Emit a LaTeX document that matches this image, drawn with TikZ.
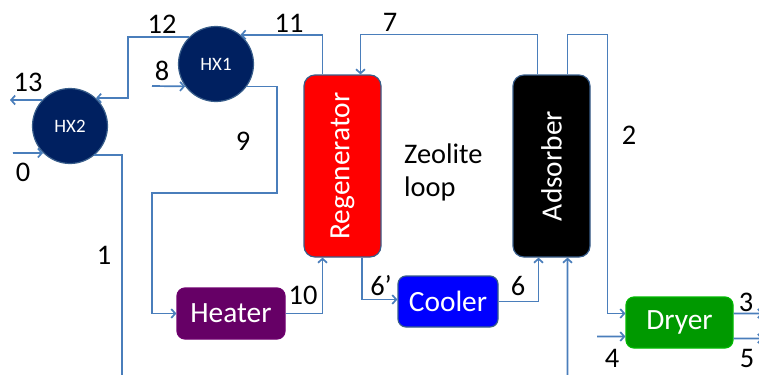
\documentclass[tikz,border=0pt]{standalone}
\usepackage{fontspec}
\setmainfont{Carlito}
\usetikzlibrary{positioning,arrows.meta}
\definecolor{flow}{RGB}{74,126,187}
\definecolor{edge}{RGB}{56,93,138}
\definecolor{navy}{RGB}{0,32,96}
\definecolor{plum}{RGB}{102,0,102}
\definecolor{leaf}{RGB}{0,153,0}

\begin{document}
\begin{tikzpicture}[x=1bp,y=-1bp,
  duct/.style={flow,line width=1.7bp},
  stream/.style={duct,-{Straight Barb[length=4bp,width=9bp]}},
  hx/.style={circle,fill=navy,draw=edge,line width=1.2bp,minimum size=75bp,inner sep=0pt,text=white,font=\fontsize{19}{20}\selectfont},
  unit/.style={rectangle,rounded corners=8bp,draw=edge,line width=1.2bp,text=white,font=\fontsize{29.5}{30}\selectfont,inner sep=0pt,minimum height=51bp},
  column/.style={unit,minimum width=77bp,minimum height=182bp,rounded corners=11bp},
  lbl/.style={font=\fontsize{28.5}{30}\selectfont,inner sep=0pt}]
  \useasboundingbox (0,0) rectangle (759,374);
  % heat exchangers
  \node[hx] (hx2) at (70,126) {HX2};
  \node[hx] (hx1) at (216,64) {HX1};
  % columns and units
  \node[column,fill=red] (regen) at (342.5,166) {\rotatebox{90}{Regenerator}};
  \node[column,fill=black] (ads) at (551.5,166) {\rotatebox{90}{Adsorber}};
  \node[unit,fill=plum,draw=plum!70!violet,minimum width=108bp] (heater) at (231,313.5) {Heater};
  \node[unit,fill=blue,minimum width=100bp] (cooler) at (448,301.5) {Cooler};
  \node[unit,fill=leaf,draw=leaf!70!green,minimum width=107bp] (dryer) at (679.5,322.5) {Dryer};
  % free ends and bends
  \coordinate (in0) at (13,153);
  \coordinate (out13) at (10,100);
  \coordinate (in8) at (152,86);
  \coordinate (out1) at (122,376);
  \coordinate (feed) at (567.5,376);
  \coordinate (in4) at (597,336.5);
  \coordinate (out3) at (763,313.5);
  \coordinate (out5) at (763,338.5);
  \coordinate (bend12) at (128,70);
  \coordinate (bend9a) at (277,193);
  \coordinate (bend9b) at (152,193);
  % streams
  \draw[stream] (in0) -- (hx2.225);
  \draw[stream] (hx2.137) -- (out13);
  \draw[stream] (in8) -- (hx1.216);
  \draw[duct] (hx2.-50) -| (out1);
  \draw[stream] (hx1.135) -| (bend12) |- (hx2.47);
  \draw[stream] ([xshift=-20bp]regen.north) |- (hx1.50);
  \draw[stream] ([xshift=-14bp]ads.north) -- ++(0,-40) -| ([xshift=18bp]regen.north);
  \draw[stream] ([xshift=16bp]ads.north) -- ++(0,-40) -- ++(40,0) |- ([yshift=9bp]dryer.west);
  \draw[stream] (hx1.-36) -| (bend9a) -- (bend9b) |- (heater.west);
  \draw[stream] (heater.east) -| ([xshift=-20bp]regen.south);
  \draw[stream] ([xshift=19.5bp]regen.south) |- ([yshift=2bp]cooler.west);
  \draw[stream] (cooler.east) -| ([xshift=-13bp]ads.south);
  \draw[stream] (feed) -- ([xshift=16bp]ads.south);
  \draw[stream] (in4) -- ([yshift=-14bp]dryer.west);
  \draw[stream] ([yshift=9bp]dryer.east) -- (out3);
  \draw[stream] ([yshift=-16bp]dryer.east) -- (out5);
  % stream numbers
  \node[lbl] (l0) at (23,172) {0};
  \node[lbl] (l1) at (104,255) {1};
  \node[lbl] (l2) at (629,135) {2};
  \node[lbl] (l3) at (746,302) {3};
  \node[lbl] (l4) at (612,358) {4};
  \node[lbl] (l5) at (747,358) {5};
  \node[lbl] (l6) at (518,286) {6};
  \node[lbl] (l6p) at (381,286) {6'};
  \node[lbl] (l7) at (390,22) {7};
  \node[lbl] (l8) at (162,71) {8};
  \node[lbl] (l9) at (243,141) {9};
  \node[lbl] (l10) at (303,295) {10};
  \node[lbl] (l11) at (289,23) {11};
  \node[lbl] (l12) at (162,24) {12};
  \node[lbl] (l13) at (28,82) {13};
  \node[lbl,align=left,anchor=north west,font=\fontsize{28.5}{33}\selectfont] (loop) at (404,144) {Zeolite\\loop};
\end{tikzpicture}
\end{document}
